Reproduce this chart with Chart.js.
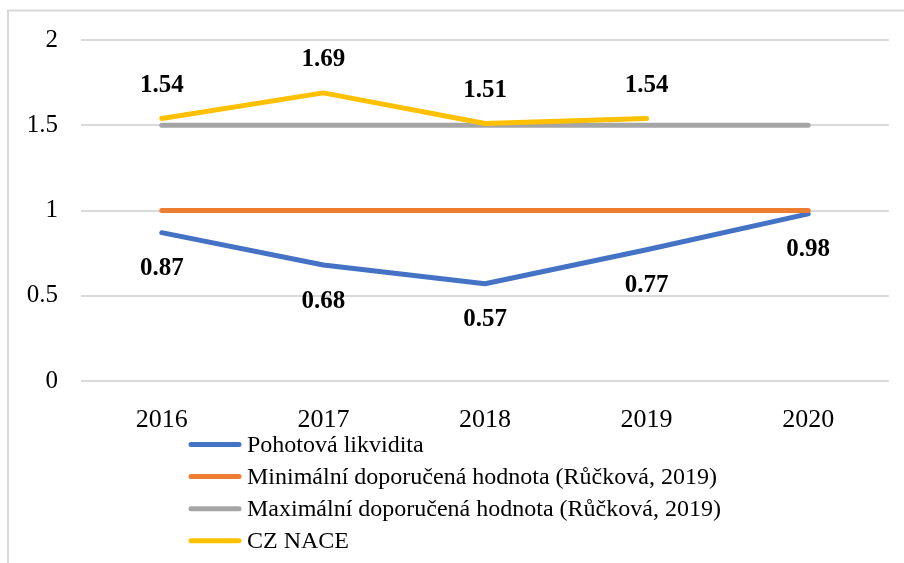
<!DOCTYPE html>
<html>
<head>
<meta charset="utf-8">
<script src="https://cdn.jsdelivr.net/npm/chart.js@4"></script>
<style>
  html, body { margin: 0; padding: 0; background: #fff; }
  #wrap { width: 904px; height: 563px; }
</style>
</head>
<body>
<div id="wrap"><canvas id="chart" width="904" height="563"></canvas></div>
<script>
const years = ['2016', '2017', '2018', '2019', '2020'];
const pohotova = [0.87, 0.68, 0.57, 0.77, 0.98];
const minHodnota = [1, 1, 1, 1, 1];
const maxHodnota = [1.5, 1.5, 1.5, 1.5, 1.5];
const czNace = [1.54, 1.69, 1.51, 1.54, null];
const yTicks = [0, 0.5, 1, 1.5, 2];

const serif = "'Liberation Serif', 'Times New Roman', serif";

// popisky hodnot (jen u první a poslední řady)
const valueLabels = {
  id: 'valueLabels',
  afterDatasetsDraw(chart) {
    const { ctx } = chart;
    ctx.save();
    ctx.font = 'bold 25px ' + serif;
    ctx.fillStyle = '#000';
    ctx.textAlign = 'center';
    ctx.textBaseline = 'middle';
    [[0, 36], [3, -33]].forEach(([di, dy]) => {
      const meta = chart.getDatasetMeta(di);
      chart.data.datasets[di].data.forEach((v, i) => {
        if (v == null) return;
        const pt = meta.data[i];
        ctx.fillText(String(v), pt.x, pt.y + dy);
      });
    });
    ctx.restore();
  }
};

// rámeček a legenda pod grafem
const frameLegend = {
  id: 'frameLegend',
  afterDraw(chart) {
    const { ctx } = chart;
    ctx.save();
    ctx.strokeStyle = '#d9d9d9';
    ctx.lineWidth = 2;
    ctx.beginPath();
    ctx.moveTo(8, 563);
    ctx.lineTo(8, 10.5);
    ctx.lineTo(904, 10.5);
    ctx.stroke();

    ctx.font = '24px ' + serif;
    ctx.textBaseline = 'middle';
    ctx.textAlign = 'left';
    ctx.lineCap = 'round';
    chart.data.datasets.forEach((ds, i) => {
      const y = 444.5 + i * 32.1;
      ctx.strokeStyle = ds.borderColor;
      ctx.lineWidth = 5;
      ctx.beginPath();
      ctx.moveTo(191, y);
      ctx.lineTo(239, y);
      ctx.stroke();
      ctx.fillStyle = '#000';
      ctx.fillText(ds.label, 247, y + 1);
    });
    ctx.restore();
  }
};

const line = (label, data, color, order) => ({
  label, data, order,
  borderColor: color,
  backgroundColor: color,
  borderWidth: 5,
  borderCapStyle: 'round',
  borderJoinStyle: 'round',
  pointRadius: 0,
  tension: 0,
  spanGaps: false
});

new Chart(document.getElementById('chart'), {
  type: 'line',
  data: {
    labels: years,
    datasets: [
      line('Pohotová likvidita', pohotova, '#4472C4', 3),
      line('Minimální doporučená hodnota (Růčková, 2019)', minHodnota, '#ED7D31', 2),
      line('Maximální doporučená hodnota (Růčková, 2019)', maxHodnota, '#A5A5A5', 1),
      line('CZ NACE', czNace, '#FFC000', 0)
    ]
  },
  options: {
    responsive: false,
    animation: false,
    layout: { padding: { top: 40, right: 15, bottom: 132, left: 0 } },
    plugins: {
      legend: { display: false },
      tooltip: { enabled: false }
    },
    scales: {
      x: {
        offset: true,
        grid: { display: false },
        border: { display: false },
        ticks: { font: { family: serif, size: 26 }, color: '#000', padding: 16, maxRotation: 0 },
        afterFit(scale) { scale.height = 50; }
      },
      y: {
        min: 0,
        max: 2,
        afterBuildTicks(scale) { scale.ticks = yTicks.map(v => ({ value: v })); },
        grid: { color: '#d9d9d9', lineWidth: 2, drawTicks: false },
        border: { display: false },
        ticks: {
          font: { family: serif, size: 25 }, color: '#000', padding: 23,
          callback: v => String(v)
        },
        afterFit(scale) { scale.width = 81; }
      }
    }
  },
  plugins: [valueLabels, frameLegend]
});
</script>
</body>
</html>
